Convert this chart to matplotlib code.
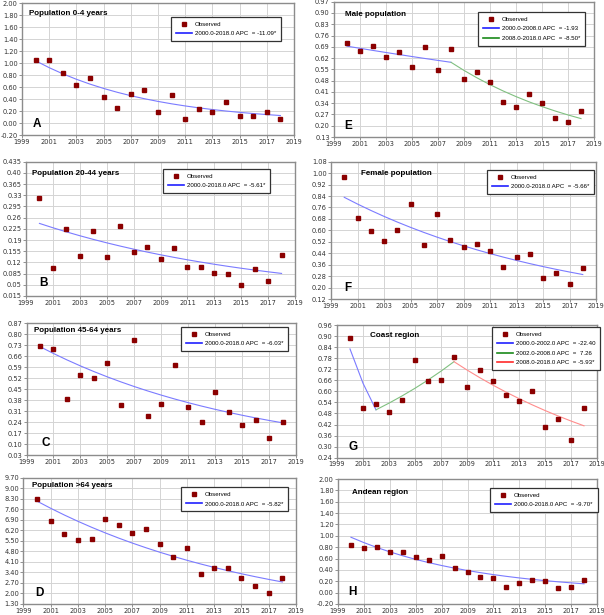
import matplotlib
matplotlib.use("Agg")
import matplotlib.pyplot as plt
import numpy as np
from matplotlib.lines import Line2D

# ---------------- data ----------------
years = list(range(2000, 2019))
xticks = list(range(1999, 2020, 2))

obs_a = [1.06, 1.05, 0.84, 0.64, 0.76, 0.44, 0.245, 0.485, 0.546, 0.178,
         0.47, 0.06, 0.24, 0.178, 0.357, 0.117, 0.117, 0.178, 0.06]
obs_e = [0.711, 0.665, 0.696, 0.626, 0.659, 0.566, 0.686, 0.547, 0.676, 0.487,
         0.532, 0.470, 0.346, 0.315, 0.398, 0.342, 0.250, 0.223, 0.292]
obs_b = [0.320, 0.1025, 0.2245, 0.140, 0.218, 0.137, 0.233, 0.1526, 0.169, 0.130,
         0.164, 0.107, 0.105, 0.086, 0.0838, 0.048, 0.098, 0.063, 0.142]
obs_f = [0.973, 0.686, 0.596, 0.523, 0.603, 0.784, 0.498, 0.712, 0.535, 0.486,
         0.502, 0.453, 0.346, 0.416, 0.432, 0.269, 0.302, 0.225, 0.339]
obs_c = [0.728, 0.704, 0.390, 0.538, 0.521, 0.615, 0.347, 0.764, 0.277, 0.356,
         0.602, 0.334, 0.241, 0.430, 0.302, 0.221, 0.251, 0.139, 0.239]
obs_g = [0.888, 0.511, 0.529, 0.490, 0.555, 0.768, 0.656, 0.660, 0.785, 0.622,
         0.718, 0.654, 0.580, 0.546, 0.600, 0.406, 0.450, 0.336, 0.510]
obs_d = [8.30, 6.78, 5.95, 5.55, 5.60, 6.95, 6.54, 5.99, 6.30, 5.27,
         4.42, 5.05, 3.29, 3.70, 3.70, 3.02, 2.50, 2.00, 3.00]
obs_h = [0.837, 0.785, 0.808, 0.709, 0.715, 0.622, 0.576, 0.646, 0.431, 0.362,
         0.281, 0.263, 0.096, 0.165, 0.217, 0.211, 0.084, 0.101, 0.229]

# joinpoint segments: (start, end), APC, significant
seg_a = [((2000, 2018), -11.09, True)]
seg_e = [((2000, 2008), -1.93, False), ((2008, 2018), -8.50, True)]
seg_b = [((2000, 2018), -5.61, True)]
seg_f = [((2000, 2018), -5.66, True)]
seg_c = [((2000, 2018), -6.03, True)]
seg_g = [((2000, 2002), -22.40, False), ((2002, 2008), 7.26, False), ((2008, 2018), -5.93, True)]
seg_d = [((2000, 2018), -5.82, True)]
seg_h = [((2000, 2018), -9.70, True)]

# fitted value at 2000
fit0_a, fit0_e, fit0_b, fit0_f = 1.04, 0.694, 0.242, 0.831
fit0_c, fit0_g, fit0_d, fit0_h = 0.721, 0.830, 8.13, 0.975

titles = ["Population 0-4 years", "Male population", "Population 20-44 years",
          "Female population", "Population 45-64 years", "Coast region",
          "Population >64 years", "Andean region"]
letters = ["A", "E", "B", "F", "C", "G", "D", "H"]

# y axis (min, max, step)
yax_a = (-0.20, 2.00, 0.20)
yax_e = (0.13, 0.97, 0.07)
yax_b = (0.015, 0.435, 0.035)
yax_f = (0.12, 1.08, 0.08)
yax_c = (0.03, 0.87, 0.07)
yax_g = (0.24, 0.96, 0.06)
yax_d = (1.30, 9.70, 0.70)
yax_h = (-0.20, 2.00, 0.20)

# ---------------- style / layout ----------------
W, H = 604, 615
marker_col = "#8b0000"
line_cols = [("#7b7bff", "#2020ff"), ("#80c080", "#1a8a1a"), ("#ff8c8c", "#ff2a2a")]

# axes rectangles in pixels (left, top, right, bottom)
rects = [(22, 3.3, 294, 135), (334, 1.7, 594, 137),
         (26, 161.7, 295, 296), (331, 161.7, 596, 299),
         (26.5, 323.3, 296, 455), (337, 325, 597, 457.7),
         (23.4, 477.5, 296, 604), (338, 479, 597, 604)]
title_pos = [(0.027, 0.926), (0.043, 0.907), (0.024, 0.914), (0.113, 0.916),
             (0.029, 0.944), (0.125, 0.919), (0.030, 0.934), (0.053, 0.895)]
letter_pos = [(0.04, 0.038), (0.041, 0.035), (0.049, 0.05), (0.05, 0.034),
              (0.056, 0.046), (0.044, 0.038), (0.043, 0.038), (0.04, 0.047)]
legend_pos = [(0.548, 0.896), (0.554, 0.924), (0.509, 0.946), (0.588, 0.94),
              (0.573, 0.972), (0.595, 0.985), (0.578, 0.924), (0.587, 0.929)]

obs_all = [obs_a, obs_e, obs_b, obs_f, obs_c, obs_g, obs_d, obs_h]
seg_all = [seg_a, seg_e, seg_b, seg_f, seg_c, seg_g, seg_d, seg_h]
fit0_all = [fit0_a, fit0_e, fit0_b, fit0_f, fit0_c, fit0_g, fit0_d, fit0_h]
yax_all = [yax_a, yax_e, yax_b, yax_f, yax_c, yax_g, yax_d, yax_h]


def fmt(v):
    s = f"{round(v, 3):.3f}"
    if s.endswith("0"):
        s = s[:-1]
    return s


fig = plt.figure(figsize=(W / 100, H / 100), dpi=100)
fig.patch.set_facecolor("white")

leg_font = dict(family="Liberation Sans", size=4.4)

for i in range(8):
    l, t, r, b = rects[i]
    ax = fig.add_axes([l / W, 1 - b / H, (r - l) / W, (b - t) / H])
    ymin, ymax, step = yax_all[i]
    n = int(round((ymax - ymin) / step))
    yt = [ymin + k * step for k in range(n + 1)]
    ax.set_ylim(ymin, ymax)
    ax.set_xlim(1999, 2019)
    ax.set_yticks(yt)
    ax.set_yticklabels([fmt(v) for v in yt])
    ax.set_xticks(xticks)
    ax.set_xticklabels([str(x) for x in xticks])
    ax.tick_params(axis="both", labelsize=4.8, length=2, width=0.6,
                   color="#808080", labelcolor="#333333", pad=1)
    ax.tick_params(axis="x", pad=0.6)
    ax.grid(True, color="#d4d4d4", linewidth=0.7)
    ax.set_axisbelow(True)
    for sp in ax.spines.values():
        sp.set_color("#8c8c8c")
        sp.set_linewidth(1.0)

    handles = [Line2D([], [], marker="s", linestyle="none", color=marker_col,
                      markersize=2.6, label="Observed")]
    v = fit0_all[i]
    for j, ((s, e), apc, sig) in enumerate(seg_all[i]):
        yrs = np.arange(s, e + 1)
        vals = v * (1 + apc / 100.0) ** (yrs - s)
        v = vals[-1]
        c_plot, c_leg = line_cols[j]
        ax.plot(yrs, vals, color=c_plot, linewidth=0.8, zorder=3)
        lab = f"{s:.1f}-{e:.1f} APC  = {apc: .2f}" + ("*" if sig else "")
        handles.append(Line2D([], [], color=c_leg, linewidth=1.2, label=lab))

    ax.plot(years, obs_all[i], linestyle="none", marker="s", markersize=2.5,
            color=marker_col, zorder=4)

    ax.text(title_pos[i][0], title_pos[i][1], titles[i], transform=ax.transAxes,
            fontsize=5.8, fontweight="bold", family="Liberation Sans",
            ha="left", va="center")
    ax.text(letter_pos[i][0], letter_pos[i][1], letters[i], transform=ax.transAxes,
            fontsize=8.5, fontweight="bold", family="Liberation Sans",
            ha="left", va="bottom")

    leg = ax.legend(handles=handles, loc="upper left",
                    bbox_to_anchor=legend_pos[i], prop=leg_font,
                    frameon=True, fancybox=False, edgecolor="#333333",
                    framealpha=1, borderpad=0.8, labelspacing=0.65,
                    handlelength=2.7, handletextpad=0.45, borderaxespad=0)
    leg.get_frame().set_linewidth(0.9)
    leg.set_zorder(10)

fig.savefig("out.png", dpi=100, facecolor="white")
